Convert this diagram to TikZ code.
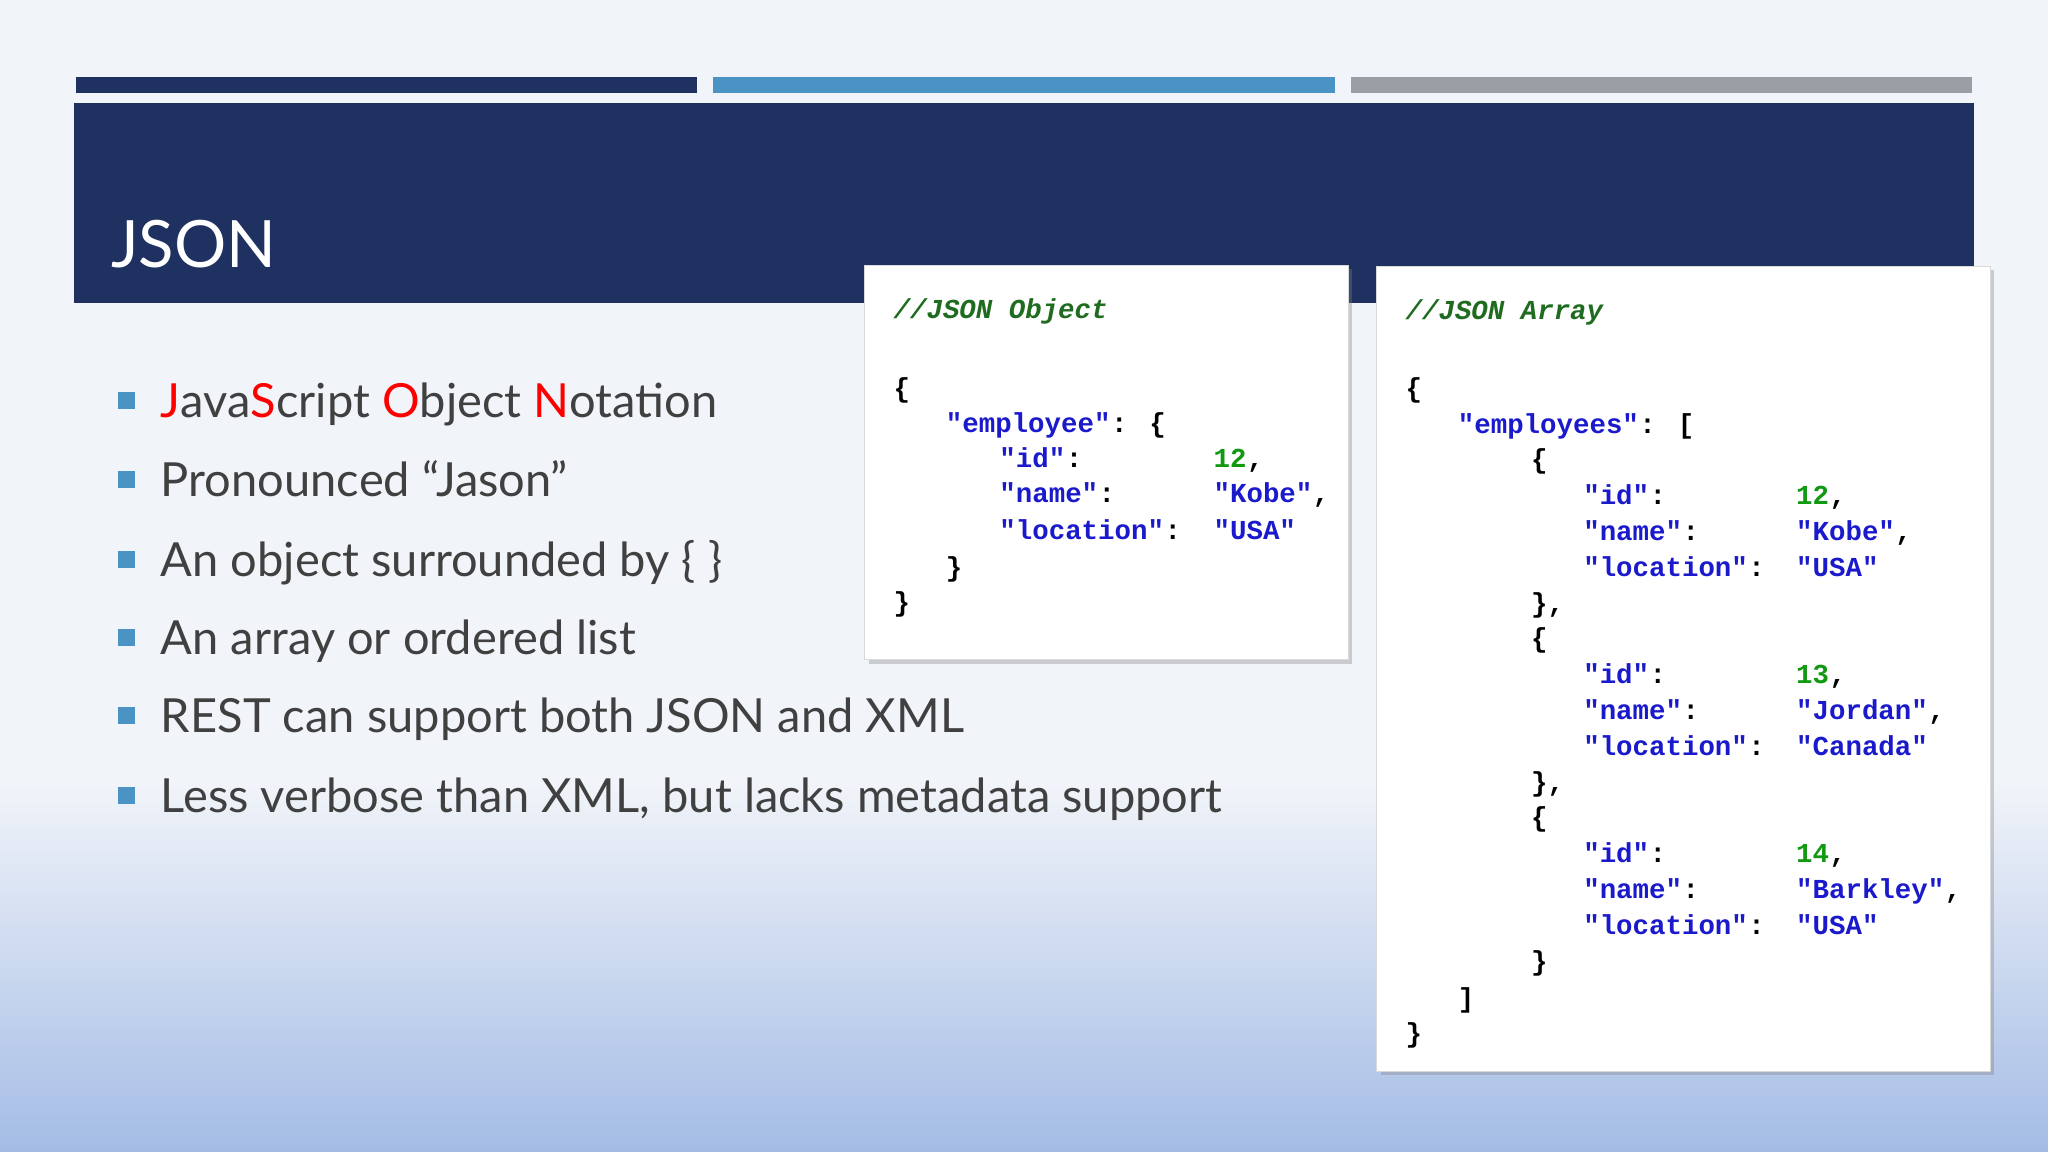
\documentclass[tikz,border=0pt]{standalone}
\usepackage{fontspec}
\setmainfont{Lato}
\newfontfamily\codefont{Liberation Mono}
\usetikzlibrary{shadows}
\definecolor{navy}{HTML}{1F3160}
\definecolor{midblue}{HTML}{4A93C4}
\definecolor{bargray}{HTML}{9A9FA6}
\definecolor{txtgray}{HTML}{404040}
\definecolor{keyblue}{HTML}{1A1ACC}
\definecolor{numgreen}{HTML}{119911}
\definecolor{cmtgreen}{HTML}{1F6B1F}
\definecolor{bgtop}{HTML}{F1F4F9}
\definecolor{bgbot}{HTML}{A4BCE5}
\tikzset{
 codec/.style={anchor=base west, inner sep=0, font=\codefont\bfseries\fontsize{21}{21}\selectfont, text=black},
 keyc/.style={codec, text=keyblue},
 numc/.style={codec, text=numgreen},
 cmtc/.style={codec, text=cmtgreen, font=\codefont\bfseries\itshape\fontsize{21}{21}\selectfont},
 bul/.style={anchor=base west, inner sep=0, font=\fontsize{36}{36}\selectfont, text=txtgray},
 sq/.style={fill=midblue, minimum size=13pt, inner sep=0},
 card/.style={fill=white, draw=gray!30, drop shadow={shadow xshift=3pt, shadow yshift=-3pt, opacity=0.35}},
}
\begin{document}
\begin{tikzpicture}[x=1pt,y=-1pt]
\useasboundingbox (0,0) rectangle (1568,882);
\fill[bgtop] (0,0) rectangle (1568,600);
\shade[top color=bgtop, bottom color=bgbot] (0,599) rectangle (1568,882);
% top bars
\fill[navy] (58,59) rectangle (534,71);
\fill[midblue] (546,59) rectangle (1022,71);
\fill[bargray] (1034,59) rectangle (1510,71);
% title band
\fill[navy] (57,79) rectangle (1511,232);
\node[anchor=base west, inner sep=0, text=white, font=\fontsize{50}{50}\selectfont] (title) at (85,205) {JSON};
% bullets
\foreach \y/\n in {307/1,367/2,428/3,488/4,548/5,609/6} \node[sq] (s\n) at (97,\y) {};
\node[bul] (b1) at (123,320) {\textcolor{red}{J}ava\textcolor{red}{S}cript \textcolor{red}{O}bject \textcolor{red}{N}otation};
\node[bul] (b2) at (123,380) {Pronounced “Jason”};
\node[bul] (b3) at (123,441) {An object surrounded by \{ \}};
\node[bul] (b4) at (123,501) {An array or ordered list};
\node[bul] (b5) at (123,561) {REST can support both JSON and XML};
\node[bul] (b6) at (123,622) {Less verbose than XML, but lacks metadata support};
% card 1
\path[card] (662,203) rectangle (1032,505);
\node[cmtc] (c1) at (684,244) {//JSON Object};
\node[codec] (o1) at (684,304) {\{};
\node[keyc] (o2) at (724,331) {"employee"};
\node[codec] (o2b) at (o2.base east) {: \{};
\node[keyc] (o3k) at (765,358) {"id"}; \node[codec] (o3c) at (o3k.base east) {:};
\node[numc] (o3v) at (929,358) {12}; \node[codec] (o3e) at (o3v.base east) {,};
\node[keyc] (o4k) at (765,385) {"name"}; \node[codec] (o4c) at (o4k.base east) {:};
\node[keyc] (o4v) at (929,385) {"Kobe"}; \node[codec] (o4e) at (o4v.base east) {,};
\node[keyc] (o5k) at (765,413) {"location"}; \node[codec] (o5c) at (o5k.base east) {:};
\node[keyc] (o5v) at (929,413) {"USA"};
\node[codec] (o6) at (724,441) {\}};
\node[codec] (o7) at (684,468) {\}};
% card 2
\path[card] (1054,204) rectangle (1524,820);
\node[cmtc] (c2) at (1076,245) {//JSON Array};
\node[codec] (a1) at (1076,304) {\{};
\node[keyc] (a2) at (1116,332) {"employees"};
\node[codec] (a2b) at (a2.base east) {: [};
\foreach \yo/\i/\nmv/\ct [count=\k] in {359/12/Kobe/USA, 496/13/Jordan/Canada, 633/14/Barkley/USA}{
  \node[codec] (ob\k) at (1172,\yo) {\{};
  \node[keyc] (ik\k) at (1212,\yo+27.5) {"id"}; \node[codec] (ic\k) at (ik\k.base east) {:};
  \node[numc] (iv\k) at (1375,\yo+27.5) {\i}; \node[codec] (ie\k) at (iv\k.base east) {,};
  \node[keyc] (nk\k) at (1212,\yo+55) {"name"}; \node[codec] (nc\k) at (nk\k.base east) {:};
  \node[keyc] (nv\k) at (1375,\yo+55) {"\nmv"}; \node[codec] (ne\k) at (nv\k.base east) {,};
  \node[keyc] (lk\k) at (1212,\yo+82.5) {"location"}; \node[codec] (lc\k) at (lk\k.base east) {:};
  \node[keyc] (lv\k) at (1375,\yo+82.5) {"\ct"};
}
\node[codec] (cb1) at (1172,469) {\},};
\node[codec] (cb2) at (1172,606) {\},};
\node[codec] (cb3) at (1172,743) {\}};
\node[codec] (a3) at (1116,771) {]};
\node[codec] (a4) at (1076,798) {\}};
\end{tikzpicture}
\end{document}
